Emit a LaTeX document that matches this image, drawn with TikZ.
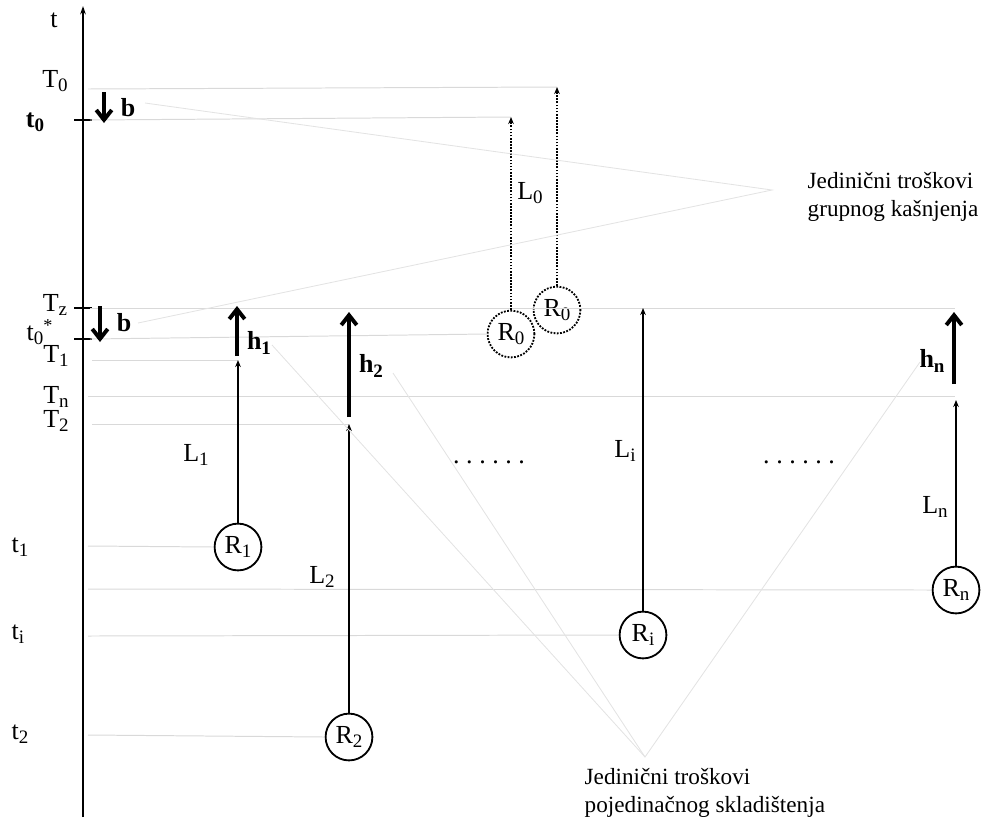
\documentclass[tikz,border=0pt]{standalone}
\usepackage{fontspec}
\setmainfont{Liberation Serif}
\usetikzlibrary{arrows.meta}
\newcommand{\low}[1]{\raisebox{-0.35ex}{\fontsize{13.5}{13.5}\selectfont #1}}
\begin{document}
\begin{tikzpicture}[x=0.025cm, y=-0.025cm,
	font=\fontsize{18.5}{21}\selectfont,
	level/.style={gray!30, line width=0.7pt},
	cost/.style={gray!22, line width=0.6pt},
	req/.style={circle, draw, line width=1.3pt, minimum size=1.17cm, inner sep=0pt},
	req0/.style={req, densely dotted, line width=1.3pt},
	lead/.style={line width=1.2pt, -{Stealth[length=5pt,width=4pt]}},
	lead0/.style={lead, densely dotted},
	hold/.style={line width=2.8pt, -{Straight Barb[length=7pt,width=11pt]}},
	lbl/.style={inner sep=1pt},
	bold/.style={lbl, font=\fontsize{18.5}{21}\selectfont\bfseries},
	note/.style={lbl, align=left, anchor=west, font=\fontsize{16.5}{19.5}\selectfont}]
	\useasboundingbox (0,0) rectangle (997,830);
	% time axis
	\coordinate (ax0) at (83,817);
	\coordinate (ax1) at (83,6);
	\draw[line width=1.6pt, -{Stealth[length=6pt,width=4pt]}] (ax0) -- (ax1);
	\node[lbl] (t) at (54,20) {t};
	\foreach \y in {120,308,339}{
		\draw[line width=1.3pt] (74,\y) -- (92,\y);
	}
	% requests
	\node[req] (R1) at (238,547) {R\low{1}};
	\node[req] (R2) at (349,737) {R\low{2}};
	\node[req] (Ri) at (643,635) {R\low{i}};
	\node[req] (Rn) at (956,590) {R\low{n}};
	\node[req0] (R0a) at (511,334) {R\low{0}};
	\node[req0] (R0b) at (557,310) {R\low{0}};
	% arrival points
	\coordinate (A1) at (R1.north |- 0,360);
	\coordinate (A2) at (R2.north |- 0,424);
	\coordinate (Ai) at (Ri.north |- 0,308);
	\coordinate (An) at (Rn.north |- 0,400);
	\coordinate (A0a) at (R0a.north |- 0,117);
	\coordinate (A0b) at (R0b.north |- 0,87);
	% time levels
	\draw[level] (88,89) -- (A0b);
	\draw[level] (90,120) -- (A0a);
	\draw[level] (90,308) -- (955,308);
	\draw[level] (90,339) -- (R0a.west);
	\draw[level] (92,360) -- (A1);
	\draw[level] (88,396) -- (955,396);
	\draw[level] (92,424) -- (A2);
	\draw[level] (88,546) -- (R1.west);
	\draw[level] (88,589) -- (Rn.west);
	\draw[level] (88,636) -- (Ri.west);
	\draw[level] (88,735) -- (R2.west);
	\node[lbl] (lT0) at (55,81) {T\low{0}};
	\node[bold] (lt0) at (35,122) {t\low{0}};
	\node[lbl] (lTz) at (55,305) {T\low{z}};
	\node[lbl] (lt0s) at (40,332) {t\low{0}\textsuperscript{*}};
	\node[lbl] (lT1) at (56,356) {T\low{1}};
	\node[lbl] (lTn) at (56,397) {T\low{n}};
	\node[lbl] (lT2) at (56,421) {T\low{2}};
	\node[lbl] (lt1) at (20,547) {t\low{1}};
	\node[lbl] (lti) at (18,634) {t\low{i}};
	\node[lbl] (lt2) at (20,734) {t\low{2}};
	% lead times
	\draw[lead] (R1.north) -- (A1);
	\draw[lead] (R2.north) -- (A2);
	\draw[lead] (Ri.north) -- (Ai);
	\draw[lead] (Rn.north) -- (An);
	\draw[lead0] (R0a.north) -- (A0a);
	\draw[lead0] (R0b.north) -- (A0b);
	\node[lbl] (L1) at (196,455) {L\low{1}};
	\node[lbl] (L2) at (322,577) {L\low{2}};
	\node[lbl] (Li) at (625,451) {L\low{i}};
	\node[lbl] (Ln) at (935,507) {L\low{n}};
	\node[lbl] (L0) at (530,193) {L\low{0}};
	% holding and backorder
	\coordinate (b1s) at (104,92);  \coordinate (b1e) at (104,123);
	\coordinate (b2s) at (100,306); \coordinate (b2e) at (100,342);
	\coordinate (h1s) at (237,356); \coordinate (h1e) at (237,306);
	\coordinate (h2s) at (349,417); \coordinate (h2e) at (349,312);
	\coordinate (hns) at (954,384); \coordinate (hne) at (954,312);
	\draw[hold] (b1s) -- (b1e);
	\draw[hold] (b2s) -- (b2e);
	\draw[hold] (h1s) -- (h1e);
	\draw[hold] (h2s) -- (h2e);
	\draw[hold] (hns) -- (hne);
	\node[bold] (b1) at (128,108) {b};
	\node[bold] (b2) at (124,323) {b};
	\node[bold] (h1) at (259,343) {h\low{1}};
	\node[bold] (h2) at (371,366) {h\low{2}};
	\node[bold] (hn) at (932,361) {h\low{n}};
	\node[lbl] (dots1) at (489,462) {.\ .\ .\ .\ .\ .};
	\node[lbl] (dots2) at (799,462) {.\ .\ .\ .\ .\ .};
	% cost notes
	\node[note] (cg) at (806,197) {Jedinični troškovi\\grupnog kašnjenja};
	\node[note] (cs) at (583,793) {Jedinični troškovi\\pojedinačnog skladištenja};
	\coordinate (pg) at (772,190);
	\coordinate (ps) at (645,757);
	\draw[cost] (145,103) -- (pg) -- (138,323);
	\draw[cost] (272,345) -- (ps) -- (920,362);
	\draw[cost] (393,373) -- (ps);
\end{tikzpicture}
\end{document}
